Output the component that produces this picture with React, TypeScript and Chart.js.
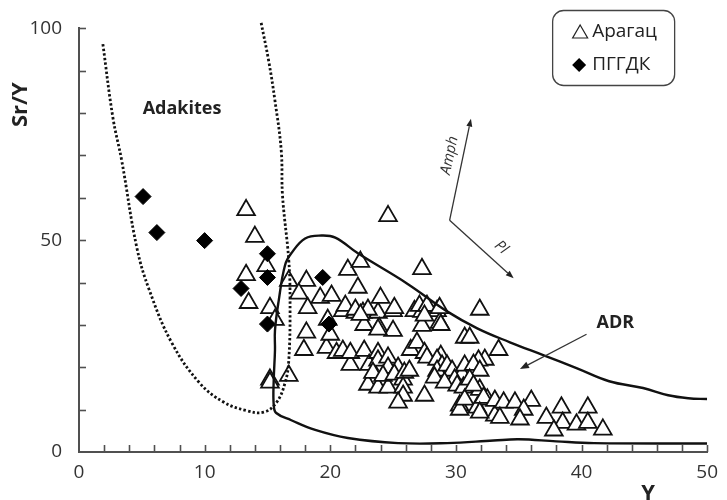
import React, { useEffect, useRef } from 'react';
import { Chart, registerables } from 'chart.js';

Chart.register(...registerables);

// ---------- data ----------
const xTickValues = [0, 10, 20, 30, 40, 50];
const yTickValues = [0, 50, 100];
const xMinorStep = 2;
const yMinorStep = 10;

// Арагац (triangles)
const araX = [
  13.3, 14.0, 14.9, 13.3, 13.5, 15.2, 15.6, 15.2, 15.2, 16.7,
  16.7, 18.1, 17.5, 19.2, 20.1, 18.2, 19.8, 21.0, 22.0, 22.6,
  23.8, 25.0, 21.4, 22.4, 22.2, 24.0, 24.6, 27.3, 26.7, 27.3,
  28.5, 28.7, 31.9, 30.7, 23.9, 25.0, 22.7, 23.8, 27.3, 28.8,
  18.1, 17.9, 19.7, 20.5, 21.0, 21.6, 21.6, 22.7, 23.1, 23.8,
  23.8, 24.6, 24.6, 25.4, 23.0, 23.4, 23.8, 24.6, 24.2, 25.1,
  25.8, 25.9, 25.8, 25.8, 27.5, 25.4, 26.3, 26.4, 26.9, 27.5,
  27.7, 28.8, 28.5, 28.9, 28.5, 28.3, 29.3, 29.7, 30.5, 29.9,
  29.1, 30.1, 30.7, 31.7, 30.6, 30.3, 30.3, 30.7, 31.7, 31.9,
  32.5, 33.1, 32.3, 33.4, 31.1, 31.8, 31.4, 31.9, 31.1, 31.4,
  32.2, 31.9, 33.1, 33.8, 34.7, 36.0, 35.4, 33.5, 35.1, 37.2,
  38.4, 38.5, 39.6, 40.5, 40.5, 41.7, 37.8, 21.2, 22.0, 23.0,
  25.1, 27.1, 27.7, 28.7, 27.5, 22.4, 20.0,
];
const araY = [
  57.1, 50.8, 43.9, 41.8, 35.2, 34.0, 31.2, 17.1, 16.4, 18.0,
  40.4, 40.4, 37.4, 36.4, 36.9, 34.0, 31.2, 33.3, 32.9, 32.9,
  32.9, 33.3, 43.0, 44.9, 38.8, 36.4, 55.7, 43.2, 33.3, 33.1,
  33.3, 30.5, 33.6, 27.0, 29.3, 28.6, 30.0, 28.9, 29.8, 30.0,
  28.2, 24.1, 24.6, 23.4, 23.9, 20.6, 23.4, 23.9, 20.6, 23.4,
  21.6, 22.3, 19.9, 19.9, 15.9, 18.7, 15.2, 15.2, 18.0, 18.3,
  17.1, 18.7, 15.2, 13.3, 13.3, 11.7, 19.2, 24.1, 25.8, 23.4,
  22.3, 22.7, 21.8, 20.4, 19.2, 17.6, 20.4, 19.2, 18.3, 17.1,
  16.4, 15.7, 20.4, 19.9, 15.2, 11.0, 10.0, 12.4, 10.5, 14.7,
  12.4, 8.6, 21.8, 24.1, 27.0, 21.6, 20.6, 19.2, 17.1, 15.7,
  12.8, 9.3, 12.1, 11.7, 11.7, 12.1, 10.0, 8.1, 7.7, 8.1,
  10.5, 6.9, 6.5, 10.5, 6.9, 5.3, 5.1, 34.5, 33.6, 33.6,
  34.0, 34.5, 34.5, 34.0, 32.2, 32.4, 27.7,
];

// ПГГДК (diamonds)
const pggdkX = [5.1, 6.2, 10.0, 12.9, 15.0, 15.0, 15.0, 19.4, 19.9];
const pggdkY = [60.3, 51.8, 49.9, 38.6, 46.8, 41.2, 30.2, 41.2, 30.2];

// ADR field boundary (solid)
const adrX = [50, 48.5, 46.9, 44.9, 42.2, 39.6, 37.0, 34.3, 31.7, 29.3, 26.1, 22.2, 20.4, 19.3, 18.0, 16.9, 16.4, 15.9, 15.6, 15.6, 15.5, 15.5, 15.7, 16.9, 18.8, 21.4, 25.4, 29.3, 33.0, 35.0, 38.0, 41.0, 50];
const adrY = [12.5, 12.7, 13.4, 15.1, 16.7, 19.8, 22.8, 25.9, 29.2, 33.2, 39.8, 46.9, 50.6, 51.1, 50.4, 46.9, 44.1, 35.8, 28.7, 24.0, 17.0, 11.1, 9.2, 7.5, 5.2, 3.3, 2.1, 2.1, 2.7, 3.0, 2.5, 2.1, 2.0];

// Adakites field boundary (dotted)
const adakX = [1.9, 2.7, 3.4, 4.6, 5.6, 7.4, 9.6, 11.5, 13.3, 14.7, 15.7, 16.4, 16.7, 16.8, 16.7, 16.2, 16.1, 15.6, 15.1, 14.5];
const adakY = [96.3, 78.9, 68.8, 48.3, 38.2, 25.7, 16.3, 11.8, 9.8, 9.4, 11.6, 16.3, 21.7, 35.8, 45.2, 60.5, 71.1, 82.9, 92.3, 101.3];

// annotations (data coordinates)
const adakitesLabel = { x: 8.2, y: 81.0, text: 'Adakites' };
const adrLabel = { x: 42.7, y: 30.6, text: 'ADR' };
const adrArrow = { x1: 40.4, y1: 27.8, x2: 35.1, y2: 19.6 };
const vecOrigin = { x: 29.5, y: 54.7 };
const amphTip = { x: 31.2, y: 78.7 };
const plTip = { x: 34.6, y: 41.0 };
const amphLabel = { x: 29.5, y: 70.0, text: 'Amph' };
const plLabel = { x: 33.6, y: 48.3, text: 'Pl' };
const legendItems = ['Арагац', 'ПГГДК'];
const xTitle = { x: 45.3, text: 'Y' };
const yTitle = { y: 82, text: 'Sr/Y' };

const FONT = '"Open Sans", "DejaVu Sans", sans-serif';
const AXIS = '#505050';

const toPts = (xs: number[], ys: number[]) => xs.map((x, i) => ({ x, y: ys[i] }));

function drawArrow(ctx: CanvasRenderingContext2D, x1: number, y1: number, x2: number, y2: number, head = 8, half = 3.2) {
  const a = Math.atan2(y2 - y1, x2 - x1);
  const bx = x2 - Math.cos(a) * head;
  const by = y2 - Math.sin(a) * head;
  ctx.beginPath();
  ctx.moveTo(x1, y1);
  ctx.lineTo(bx, by);
  ctx.stroke();
  ctx.beginPath();
  ctx.moveTo(x2, y2);
  ctx.lineTo(bx + Math.sin(a) * half, by - Math.cos(a) * half);
  ctx.lineTo(bx - Math.sin(a) * half, by + Math.cos(a) * half);
  ctx.closePath();
  ctx.fill();
}

const overlay = {
  id: 'overlay',
  afterDraw(chart: any) {
    const { ctx, chartArea, scales } = chart;
    const xs = scales.x;
    const ys = scales.y;
    ctx.save();
    // inward ticks
    ctx.strokeStyle = AXIS;
    ctx.lineWidth = 1.6;
    for (let v = xs.min + xMinorStep; v <= xs.max + 1e-9; v += xMinorStep) {
      const px = Math.round(xs.getPixelForValue(v)) + 0.5;
      ctx.beginPath();
      ctx.moveTo(px, chartArea.bottom);
      ctx.lineTo(px, chartArea.bottom - 7);
      ctx.stroke();
    }
    for (let v = ys.min + yMinorStep; v <= ys.max + 1e-9; v += yMinorStep) {
      const py = Math.round(ys.getPixelForValue(v)) + 0.5;
      ctx.beginPath();
      ctx.moveTo(chartArea.left, py);
      ctx.lineTo(chartArea.left + 7, py);
      ctx.stroke();
    }

    // axis titles
    ctx.fillStyle = '#222';
    ctx.font = `bold 22px ${FONT}`;
    ctx.textAlign = 'center';
    ctx.textBaseline = 'middle';
    ctx.fillText(xTitle.text, xs.getPixelForValue(xTitle.x), 494);
    ctx.save();
    ctx.translate(21, ys.getPixelForValue(yTitle.y));
    ctx.rotate(-Math.PI / 2);
    ctx.fillText(yTitle.text, 0, 0);
    ctx.restore();

    // field labels
    ctx.font = `bold 18px ${FONT}`;
    ctx.fillText(adakitesLabel.text, xs.getPixelForValue(adakitesLabel.x), ys.getPixelForValue(adakitesLabel.y));
    ctx.fillText(adrLabel.text, xs.getPixelForValue(adrLabel.x), ys.getPixelForValue(adrLabel.y));

    // arrows
    ctx.strokeStyle = '#333';
    ctx.fillStyle = '#222';
    ctx.lineWidth = 1.3;
    drawArrow(ctx, xs.getPixelForValue(adrArrow.x1), ys.getPixelForValue(adrArrow.y1), xs.getPixelForValue(adrArrow.x2), ys.getPixelForValue(adrArrow.y2), 9, 3.5);
    const ox = xs.getPixelForValue(vecOrigin.x);
    const oy = ys.getPixelForValue(vecOrigin.y);
    drawArrow(ctx, ox, oy, xs.getPixelForValue(amphTip.x), ys.getPixelForValue(amphTip.y), 8, 3);
    drawArrow(ctx, ox, oy, xs.getPixelForValue(plTip.x), ys.getPixelForValue(plTip.y), 8, 3);

    // vector labels
    ctx.fillStyle = '#333';
    ctx.font = `italic 15px ${FONT}`;
    const amphAngle = Math.atan2(ys.getPixelForValue(amphTip.y) - oy, xs.getPixelForValue(amphTip.x) - ox);
    ctx.save();
    ctx.translate(xs.getPixelForValue(amphLabel.x), ys.getPixelForValue(amphLabel.y));
    ctx.rotate(amphAngle);
    ctx.fillText(amphLabel.text, 0, 0);
    ctx.restore();
    const plAngle = Math.atan2(ys.getPixelForValue(plTip.y) - oy, xs.getPixelForValue(plTip.x) - ox);
    ctx.save();
    ctx.translate(xs.getPixelForValue(plLabel.x), ys.getPixelForValue(plLabel.y));
    ctx.rotate(plAngle);
    ctx.fillText(plLabel.text, 0, 0);
    ctx.restore();

    // legend box
    const bx = chartArea.right - 155;
    const by = 10;
    const bw = 122;
    const bh = 75;
    ctx.beginPath();
    ctx.roundRect(bx + 0.5, by + 0.5, bw, bh, 11);
    ctx.fillStyle = '#fff';
    ctx.fill();
    ctx.strokeStyle = '#444';
    ctx.lineWidth = 1.3;
    ctx.stroke();
    const row1 = by + 22;
    const row2 = by + 55;
    const ix = bx + 28;
    // triangle icon
    ctx.beginPath();
    ctx.moveTo(ix, row1 - 7);
    ctx.lineTo(ix + 7.5, row1 + 6);
    ctx.lineTo(ix - 7.5, row1 + 6);
    ctx.closePath();
    ctx.strokeStyle = '#222';
    ctx.lineWidth = 1.2;
    ctx.stroke();
    // diamond icon
    ctx.beginPath();
    ctx.moveTo(ix - 1, row2 - 7);
    ctx.lineTo(ix + 6, row2);
    ctx.lineTo(ix - 1, row2 + 7);
    ctx.lineTo(ix - 8, row2);
    ctx.closePath();
    ctx.fillStyle = '#000';
    ctx.fill();
    ctx.fillStyle = '#222';
    ctx.font = `19px ${FONT}`;
    ctx.textAlign = 'left';
    ctx.fillText(legendItems[0], bx + 40, row1);
    ctx.fillText(legendItems[1], bx + 40, row2);
    ctx.restore();
  },
};

export default function App() {
  const ref = useRef<HTMLCanvasElement | null>(null);
  useEffect(() => {
    document.body.style.margin = '0';
    if (!ref.current) return;
    const tickFont = { family: FONT, size: 19 };
    const chart = new Chart(ref.current, {
      type: 'scatter',
      data: {
        datasets: [
          {
            label: 'ADR',
            data: toPts(adrX, adrY),
            showLine: true,
            borderColor: '#111',
            borderWidth: 2.4,
            pointRadius: 0,
            tension: 0.4,
            fill: false,
            order: 0,
          } as any,
          {
            label: 'Adakites',
            data: toPts(adakX, adakY),
            showLine: true,
            borderColor: '#111',
            borderWidth: 2.8,
            borderDash: [2.4, 2.2],
            pointRadius: 0,
            tension: 0.4,
            fill: false,
            clip: false,
            order: 1,
          } as any,
          {
            label: legendItems[1],
            data: toPts(pggdkX, pggdkY),
            pointStyle: 'rectRot',
            pointRadius: 8,
            backgroundColor: '#000',
            borderColor: '#000',
            borderWidth: 1,
            order: 2,
          } as any,
          {
            label: legendItems[0],
            data: toPts(araX, araY),
            pointStyle: 'triangle',
            pointRadius: 10.2,
            backgroundColor: '#fff',
            borderColor: '#111',
            borderWidth: 1.8,
            order: 3,
          } as any,
        ],
      },
      options: {
        animation: false,
        responsive: true,
        maintainAspectRatio: false,
        events: [],
        layout: { padding: { top: 27, right: 15, left: 0, bottom: 0 } },
        plugins: { legend: { display: false }, tooltip: { enabled: false } },
        scales: {
          x: {
            type: 'linear',
            min: 0,
            max: 50,
            afterFit: (s: any) => { s.height = 48; },
            afterBuildTicks: (s: any) => { s.ticks = xTickValues.map((v) => ({ value: v })); },
            grid: { display: false, drawTicks: false },
            border: { display: true, color: AXIS, width: 2 },
            ticks: { padding: 9, color: '#333', font: tickFont, maxRotation: 0 },
          },
          y: {
            type: 'linear',
            min: 0,
            max: 100,
            afterFit: (s: any) => { s.width = 79; },
            afterBuildTicks: (s: any) => { s.ticks = yTickValues.map((v) => ({ value: v })); },
            grid: { display: false, drawTicks: false },
            border: { display: true, color: AXIS, width: 2 },
            ticks: { padding: 17, color: '#333', font: tickFont },
          },
        },
      } as any,
      plugins: [overlay],
    });
    return () => chart.destroy();
  }, []);
  return (
    <div style={{ position: 'relative', width: 727, height: 500 }}>
      <canvas ref={ref} />
    </div>
  );
}
